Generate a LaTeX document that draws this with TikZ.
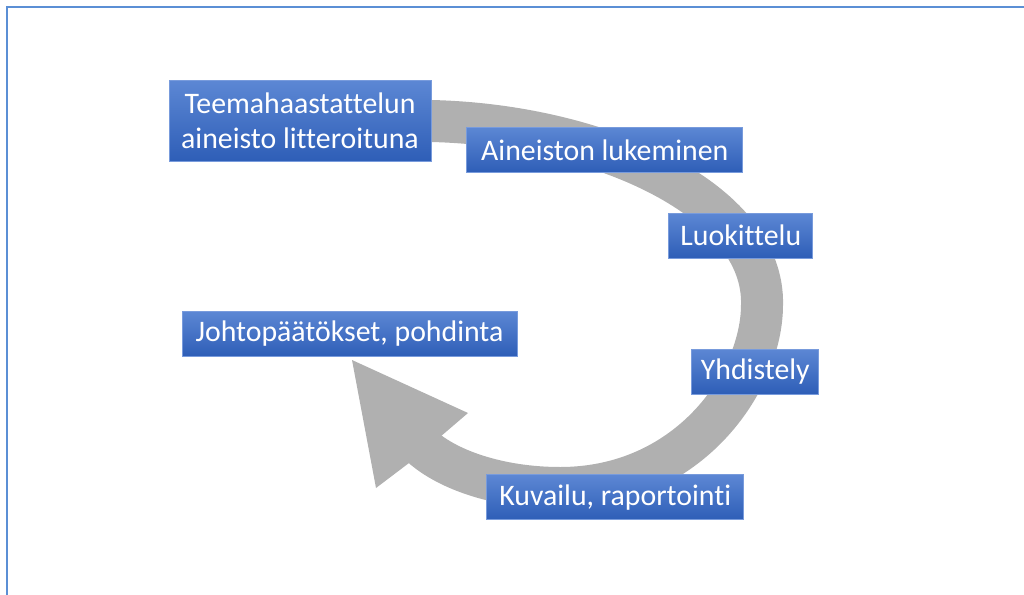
\documentclass[tikz,border=0pt]{standalone}
\usepackage{fontspec}
\setmainfont{Carlito}[Ligatures=NoCommon]
\usetikzlibrary{positioning}
\usetikzlibrary{backgrounds}

\definecolor{boxtop}{RGB}{92,135,212}
\definecolor{boxbottom}{RGB}{46,94,183}
\definecolor{boxline}{RGB}{120,155,220}
\definecolor{bandgray}{RGB}{176,176,176}
\definecolor{framecol}{RGB}{91,143,213}

\tikzset{
  stepbox/.style={draw=boxline, line width=.4pt, top color=boxtop, bottom color=boxbottom,
    text=white, font=\fontsize{14.9pt}{17.5pt}\selectfont, align=center,
    inner xsep=4pt, inner ysep=2pt, minimum height=22.5pt},
  band/.style={draw=bandgray, line width=21pt},
}

\begin{document}
\begin{tikzpicture}[x=.5pt, y=-.5pt]
\useasboundingbox (0,0) rectangle (1024,595);
% frame
\draw [framecol, line width=1pt] (7,595) |- (1024,7);

% steps
\node (teema) [stepbox, minimum width=131pt, minimum height=40.5pt] at (300,121) {Teemahaastattelun\\aineisto litteroituna};
\node (aineisto) [stepbox, minimum width=138pt, below right=3pt and 17.5pt of teema.east] {Aineiston lukeminen};
\node (luokittelu) [stepbox, minimum width=72pt, below=20pt of aineisto.south east, anchor=north east, xshift=35pt] {Luokittelu};
\node (yhdistely) [stepbox, minimum width=63.5pt, below=45pt of luokittelu.south east, anchor=north east, xshift=3pt] {Yhdistely};
\node (kuvailu) [stepbox, minimum width=128.5pt, below=40pt of yhdistely.south east, anchor=north east, xshift=-37.5pt] {Kuvailu, raportointi};
\node (johto) [stepbox, minimum width=167.5pt, below=74.5pt of teema.south west, anchor=north west, xshift=6.5pt] {Johtopäätökset, pohdinta};

% gray circular arrow
\coordinate (tail) at (418,443);
\coordinate (tip) at (352,360);
\begin{scope}[on background layer]
\draw [band] (teema.east) .. controls (600,125) and (765,200) .. (762,305)
  .. controls (762,380) and (690,488) .. (560,488)
  .. controls (500,488) and (445,470) .. (tail);
\fill [bandgray] (440,437) -- (468,413) -- (tip) -- (376,488) -- (409,463) -- cycle;
\end{scope}
\end{tikzpicture}
\end{document}
